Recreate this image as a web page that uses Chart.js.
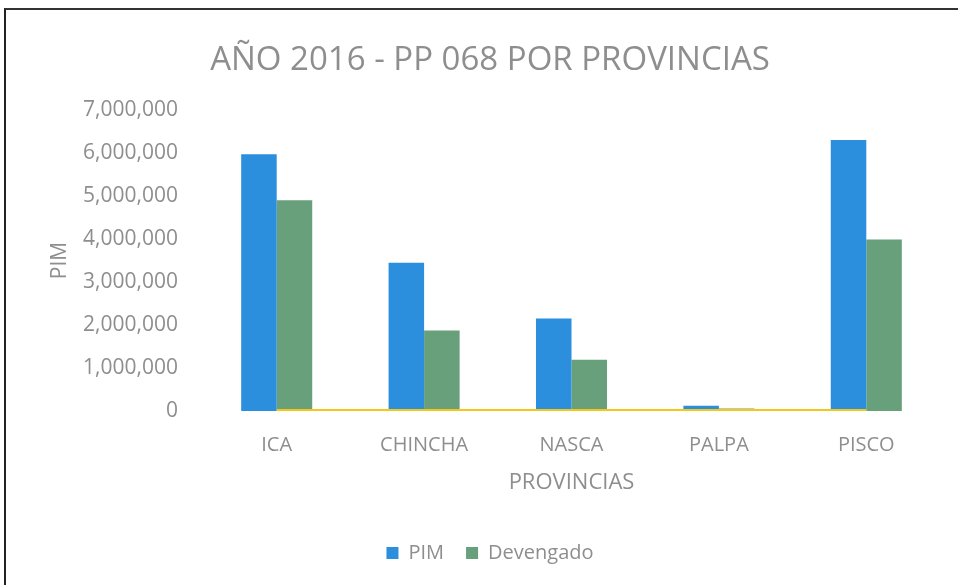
<!DOCTYPE html>
<html>
<head>
<meta charset="utf-8">
<script src="https://cdn.jsdelivr.net/npm/chart.js@4.4.1/dist/chart.umd.min.js"></script>
<style>
  html, body { margin: 0; padding: 0; background: #fff; overflow: hidden; }
  #wrap { position: relative; width: 958px; height: 585px; overflow: hidden; }
  #frame {
    position: absolute; left: 4px; top: 8px;
    width: 1000px; height: 1000px;
    border-left: 2px solid #222; border-top: 2px solid #333;
  }
  #chart { position: absolute; left: 40px; top: 0; }
</style>
</head>
<body>
<div id="wrap">
  <div id="frame"></div>
  <canvas id="chart" width="900" height="585"></canvas>
</div>
<script>
// Data
const provincias = ['ICA', 'CHINCHA', 'NASCA', 'PALPA', 'PISCO'];
const pim = [5970000, 3450000, 2150000, 120000, 6300000];
const devengado = [4900000, 1870000, 1190000, 60000, 3990000];
// yellow line (avance), near zero on this scale
const avance = [0.82, 0.54, 0.55, 0.5, 0.63];
const yTicks = [0, 1000000, 2000000, 3000000, 4000000, 5000000, 6000000, 7000000];

const gray = '#8e8e8e';
const fontFamily = '"Open Sans", sans-serif';

const ctx = document.getElementById('chart');

new Chart(ctx, {
    type: 'bar',
    data: {
        labels: provincias,
        datasets: [
            {
                type: 'line',
                label: 'Avance',
                data: avance,
                borderColor: '#f4c816',
                borderWidth: 4,
                pointRadius: 0,
                order: 0
            },
            {
                label: 'PIM',
                data: pim,
                backgroundColor: '#2b8fde',
                categoryPercentage: 0.482,
                barPercentage: 1,
                order: 1
            },
            {
                label: 'Devengado',
                data: devengado,
                backgroundColor: '#67a07a',
                categoryPercentage: 0.482,
                barPercentage: 1,
                order: 1
            }
        ]
    },
    options: {
        responsive: false,
        animation: false,
        layout: {
            padding: { left: 0, right: 0, top: 0, bottom: 12 }
        },
        plugins: {
            title: {
                display: true,
                text: 'AÑO 2016 - PP 068 POR PROVINCIAS',
                color: gray,
                font: { family: fontFamily, size: 33, weight: 'normal' },
                padding: { top: 41, bottom: 29.4 }
            },
            legend: {
                position: 'bottom',
                labels: {
                    color: gray,
                    font: { family: fontFamily, size: 20 },
                    boxWidth: 12,
                    boxHeight: 12,
                    padding: 22,
                    filter: item => item.text !== 'Avance'
                }
            },
            tooltip: { enabled: false }
        },
        scales: {
            x: {
                grid: { display: false, drawTicks: false },
                border: { display: false },
                ticks: {
                    color: gray,
                    font: { family: fontFamily, size: 20 },
                    padding: 22
                },
                title: {
                    display: true,
                    text: 'PROVINCIAS',
                    color: gray,
                    font: { family: fontFamily, size: 22 },
                    padding: { top: 12, bottom: 25 }
                },
                afterFit: scale => { scale.height = 110; }
            },
            y: {
                min: 0,
                max: 7000000,
                grid: { display: false, drawTicks: false },
                border: { display: false },
                afterBuildTicks: scale => {
                    scale.ticks = yTicks.map(v => ({ value: v }));
                },
                ticks: {
                    color: gray,
                    font: { family: fontFamily, size: 21 },
                    padding: 25,
                    callback: v => v.toLocaleString('en-US')
                },
                title: {
                    display: true,
                    text: 'PIM',
                    color: gray,
                    font: { family: fontFamily, size: 21 },
                    padding: { top: 7, bottom: 0 }
                },
                afterFit: scale => { scale.width = 163; }
            }
        }
    }
});
</script>
</body>
</html>
